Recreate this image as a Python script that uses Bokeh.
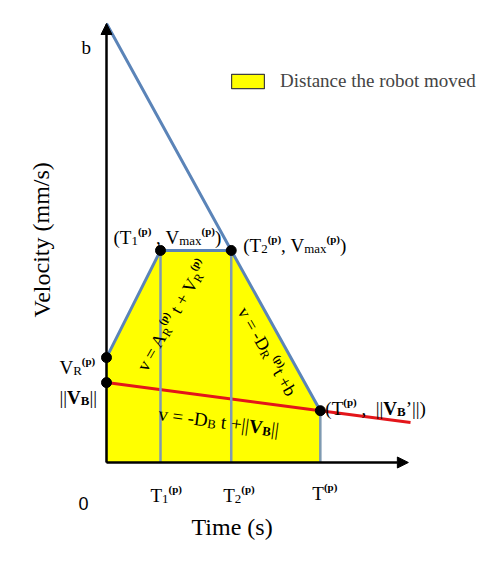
import math
import re
from bokeh.plotting import figure
from bokeh.models import ColumnDataSource, Arrow, NormalHead, Legend, LegendItem
from bokeh.embed import file_html
from bokeh.resources import INLINE

# ---------------- data (time in s, velocity in mm/s, schematic) ----------------
phase_times = [0.0, 1.0, 2.31, 3.96]      # 0, T1(p), T2(p), T(p)
profile_vel = [2.39, 4.83, 4.83, 1.18]    # V_R(p), Vmax(p), Vmax(p), ||V_B'||
decel_times = [0.0, 2.31, 3.96]
decel_vel = [10.0, 4.83, 1.18]            # b, Vmax(p), ||V_B'||
base_times = [0.0, 3.96, 5.63]
base_vel = [1.82, 1.18, 0.91]             # ||V_B||, ||V_B'||, ...
axis_time_end = 5.59
axis_vel_end = 10.0
legend_label = "Distance the robot moved"

# ---------------- layout constants ----------------
W, H = 482, 545
SX, SY = 54.0, 43.9          # pixels per unit
X0, Y0 = 106.0, 462.0        # frame pixel position of the origin
XS = -X0 / SX
XE = XS + W / SX
YE = Y0 / SY
YS = YE - H / SY

p = figure(width=W, height=H, x_range=(XS, XE), y_range=(YS, YE),
           output_backend="svg", toolbar_location=None,
           x_axis_location=None, y_axis_location=None, min_border=0,
           outline_line_color=None)
p.xgrid.visible = False
p.ygrid.visible = False

YELLOW = "#ffff00"
BLUE = "#5b84b8"
GREY_BLUE = "#7f9ab2"
RED = "#e3151a"

# area under the robot's velocity profile (its outline is hidden under the edges)
area_t = [phase_times[0]] + phase_times + [phase_times[-1]]
area_v = [0.0] + profile_vel + [0.0]
area = p.patch(area_t, area_v, fill_color=YELLOW, line_color="#404040", line_width=1.2)

# red line
p.line(base_times, base_vel, line_color=RED, line_width=3)

# vertical lines at T1, T2, T
p.segment(x0=phase_times[1:], y0=[0.0] * 3, x1=phase_times[1:], y1=profile_vel[1:],
          line_color=GREY_BLUE, line_width=2.5)

# profile edges
p.line(phase_times[:3], profile_vel[:3], line_color=BLUE, line_width=3)
p.line(decel_times, decel_vel, line_color=BLUE, line_width=3)

# axes with arrows
p.add_layout(Arrow(x_start=0, y_start=0, x_end=axis_time_end, y_end=0,
                   line_color="black", line_width=2.5,
                   end=NormalHead(size=11, fill_color="black", line_color="black")))
p.add_layout(Arrow(x_start=0, y_start=0, x_end=0, y_end=axis_vel_end,
                   line_color="black", line_width=2.5,
                   end=NormalHead(size=11, fill_color="black", line_color="black")))

# key points
pt_t = [0.0, 0.0, phase_times[1], phase_times[2], phase_times[3]]
pt_v = [profile_vel[0], base_vel[0], profile_vel[1], profile_vel[2], profile_vel[3]]
p.scatter(pt_t, pt_v, size=10, fill_color="black", line_color="black")

legend = Legend(items=[LegendItem(label=legend_label, renderers=[area])],
                location=(227, 453), glyph_width=41, glyph_height=18,
                label_standoff=12, padding=0, margin=0, spacing=0,
                border_line_color=None, background_fill_alpha=0,
                label_text_font="Liberation Serif", label_text_font_size="19px",
                label_height=18)
p.add_layout(legend)

# ---------------- rich text helper ----------------
W_REG = {' ': 250, '(': 333, ')': 333, ',': 250, "'": 180, '\u2019': 333, '|': 200,
         '=': 564, '+': 564, '-': 333, '/': 278, 'T': 611, 'V': 722, 'A': 722,
         'D': 722, 'R': 667, 'B': 667, 'a': 444, 'b': 500, 'm': 778, 'x': 500,
         'p': 500, 't': 278, 'v': 500, '1': 500, '2': 500, 'e': 444, 'i': 278,
         'l': 278, 'o': 500, 'c': 444, 'y': 500, 's': 389, 'E': 611}
W_BOLD = {'p': 556, 'V': 722, 'B': 667, '(': 333, ')': 333}
STY = {"n": (1.0, 0.0, False), "b": (1.0, 0.0, True),
       "sub": (0.68, -0.2, False), "bsub": (0.68, -0.2, True),
       "sup": (0.58, 0.33, False), "bsup": (0.58, 0.33, True)}

labels = dict(x=[], y=[], text=[], size=[], style=[], angle=[], font=[])


def seg_width(txt, bold, size):
    tbl = W_BOLD if bold else {}
    return sum(tbl.get(ch, W_REG.get(ch, 500)) for ch in txt) * size / 1000.0


def rich(x, y, segs, fs, dx=0.0, dy=0.0, angle=0.0, align="left",
         font="Liberation Serif"):
    th = math.radians(angle)
    c, s = math.cos(th), math.sin(th)
    widths = []
    for txt, st in segs:
        f, sh, bold = STY[st]
        widths.append(seg_width(txt, bold, fs * f))
    a = -sum(widths) / 2.0 if align == "center" else 0.0
    for (txt, st), w in zip(segs, widths):
        f, sh, bold = STY[st]
        h = sh * fs
        for m in re.finditer(r"\S+(?: \S+)*", txt):
            aa = a + seg_width(txt[:m.start()], bold, fs * f)
            ox = dx + aa * c - h * s
            oy = -dy + aa * s + h * c
            labels["x"].append(x + ox / SX)
            labels["y"].append(y + oy / SY)
            labels["text"].append(m.group())
            labels["size"].append("%.1fpx" % (fs * f))
            labels["style"].append("bold" if bold else "normal")
            labels["angle"].append(th)
            labels["font"].append(font)
        a += w


T1, T2, TT = phase_times[1], phase_times[2], phase_times[3]
VR, VMAX, VBE = profile_vel[0], profile_vel[1], profile_vel[3]
VB = base_vel[0]
B = decel_vel[0]

rich(0.0, B, [("b", "n")], 19, dx=-25, dy=24)
rich(0.0, VR, [("V", "n"), ("R", "sub"), ("(p)", "bsup")], 19, dx=-47, dy=10)
rich(0.0, VB, [("||", "n"), ("V", "b"), ("B", "bsub"), ("||", "n")], 19, dx=-47, dy=15)
rich(T1, VMAX, [("(", "n"), ("T", "n"), ("1", "sub"), ("(p)", "bsup"), (" , ", "n"),
                ("V", "n"), ("max", "sub"), ("(p)", "bsup"), (")", "n")], 19, dx=-47, dy=-13)
rich(T2, VMAX, [("(", "n"), ("T", "n"), ("2", "sub"), ("(p)", "bsup"), (", ", "n"),
                ("V", "n"), ("max", "sub"), ("(p)", "bsup"), (")", "n")], 19, dx=12, dy=-5)
rich(TT, VBE, [("(", "n"), ("T", "n"), ("(p)", "bsup"), (" ,  ||", "n"), ("V", "b"),
               ("B", "bsub"), ("\u2019||)", "n")], 19, dx=5, dy=-2)

# equations
rich(0.0, VR, [("v = A", "n"), ("R", "sub"), ("(p)", "bsup"), (" t + V", "n"),
               ("R", "sub"), ("(p)", "bsup")], 18, dx=35, dy=12, angle=60)
rich(T2, VMAX, [("v = -D", "n"), ("R", "sub"), (" (p)", "bsup"), ("t +b", "n")],
     18, dx=11, dy=58, angle=-60)
rich(0.0, VB, [("v = -D", "n"), ("B", "sub"), (" t +||", "n"), ("V", "b"),
               ("B", "bsub"), ("||", "n")], 19, dx=52, dy=31, angle=-7.5)

# tick labels
rich(T1, 0.0, [("T", "n"), ("1", "sub"), ("(p)", "bsup")], 19, dx=-10, dy=33)
rich(T2, 0.0, [("T", "n"), ("2", "sub"), ("(p)", "bsup")], 19, dx=-8, dy=33)
rich(TT, 0.0, [("T", "n"), ("(p)", "bsup")], 19, dx=-8, dy=31)
rich(0.0, 0.0, [("0", "n")], 18, dx=-28, dy=41, font="Liberation Sans")

# axis titles
rich(0.0, 0.0, [("Velocity (mm/s)", "n")], 24, dx=-65, dy=-224, angle=90, align="center")
rich(0.0, 0.0, [("Time (s)", "n")], 24, dx=126, dy=64, align="center")

p.text(x="x", y="y", text="text", source=ColumnDataSource(labels),
       text_font_size="size", text_font_style="style", angle="angle",
       text_font="font", text_color="black", text_baseline="alphabetic",
       text_align="left")

open("out.html", "w").write(file_html(p, INLINE))
